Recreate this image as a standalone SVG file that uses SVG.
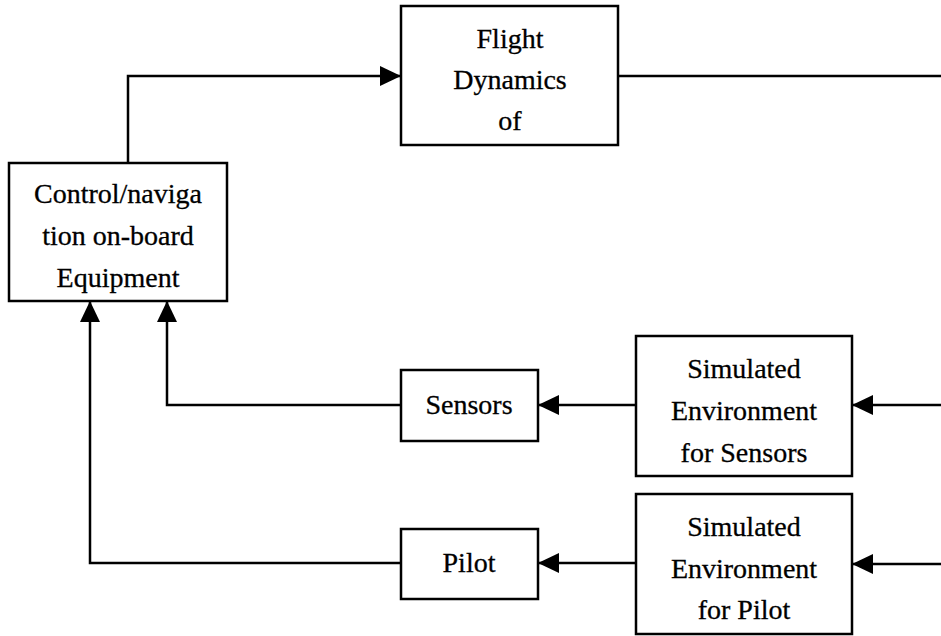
<svg xmlns="http://www.w3.org/2000/svg" width="941" height="636" viewBox="0 0 941 636">
  <style>
    .box { fill: #fff; stroke: #000; stroke-width: 2.5; }
    .wire { fill: none; stroke: #000; stroke-width: 2.5; }
    .lbl { font-family: "Liberation Serif", "Times New Roman", serif; font-size: 28px; fill: #000; stroke: #000; stroke-width: 0.3; text-anchor: middle; }
  </style>
  <defs>
    <marker id="arrow" viewBox="0 0 21 20" refX="21" refY="10" markerWidth="21" markerHeight="20" markerUnits="userSpaceOnUse" orient="auto">
      <path d="M0,0 L21,10 L0,20 Z" fill="#000"/>
    </marker>
  </defs>
  <rect width="941" height="636" fill="#fff"/>

  <g id="connectors">
    <!-- on-board equipment to flight dynamics -->
    <path class="wire" d="M128,163 V76 H401" marker-end="url(#arrow)"/>
    <!-- flight dynamics output -->
    <path class="wire" d="M618,76 H941"/>
    <!-- sensors to on-board equipment -->
    <path class="wire" d="M401,405 H167 V301" marker-end="url(#arrow)"/>
    <!-- pilot to on-board equipment -->
    <path class="wire" d="M401,563 H90 V301" marker-end="url(#arrow)"/>
    <!-- simulated environments to sensors / pilot -->
    <path class="wire" d="M636,405 H538" marker-end="url(#arrow)"/>
    <path class="wire" d="M636,563 H538" marker-end="url(#arrow)"/>
    <!-- inputs to simulated environments -->
    <path class="wire" d="M941,405 H852" marker-end="url(#arrow)"/>
    <path class="wire" d="M941,564 H852" marker-end="url(#arrow)"/>
  </g>

  <g id="equipment">
    <rect class="box" x="9" y="163" width="218" height="138"/>
    <text class="lbl" x="118" y="203">Control/naviga</text>
    <text class="lbl" x="118" y="245">tion on-board</text>
    <text class="lbl" x="118" y="287">Equipment</text>
  </g>

  <g id="flight-dynamics">
    <rect class="box" x="401" y="6" width="217" height="139"/>
    <text class="lbl" x="510" y="48">Flight</text>
    <text class="lbl" x="510" y="89">Dynamics</text>
    <text class="lbl" x="510" y="130">of</text>
  </g>

  <g id="sensors">
    <rect class="box" x="401" y="370" width="137" height="71"/>
    <text class="lbl" x="469" y="414">Sensors</text>
  </g>

  <g id="pilot">
    <rect class="box" x="401" y="529" width="137" height="70"/>
    <text class="lbl" x="469" y="572">Pilot</text>
  </g>

  <g id="env-sensors">
    <rect class="box" x="636" y="336" width="216" height="140"/>
    <text class="lbl" x="744" y="378">Simulated</text>
    <text class="lbl" x="744" y="420">Environment</text>
    <text class="lbl" x="744" y="462">for Sensors</text>
  </g>

  <g id="env-pilot">
    <rect class="box" x="636" y="494" width="216" height="140"/>
    <text class="lbl" x="744" y="536">Simulated</text>
    <text class="lbl" x="744" y="578">Environment</text>
    <text class="lbl" x="744" y="619">for Pilot</text>
  </g>
</svg>
